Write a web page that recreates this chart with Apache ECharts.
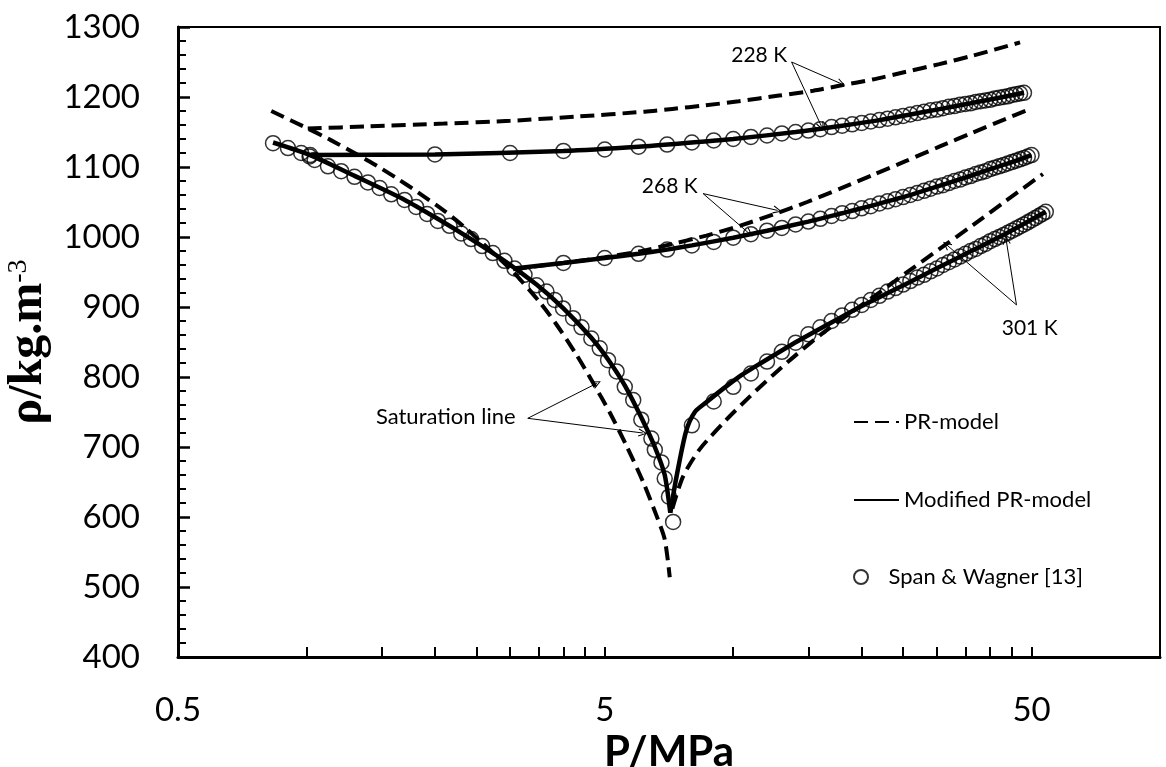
<!DOCTYPE html>
<html><head><meta charset="utf-8">
<script src="https://cdn.jsdelivr.net/npm/echarts@6/dist/echarts.min.js"></script>
<style>html,body{margin:0;padding:0;background:#fff}#c{width:1166px;height:767px}</style>
</head><body><div id="c"></div>
<script>
// ---------- axis tick / label values ----------
const xLabelValues = [0.5, 5, 50];
const xTickValues = [1, 1.5, 2, 2.5, 3, 3.5, 4, 4.5, 5, 10, 15, 20, 25, 30, 35, 40, 45, 50];

// ---------- Saturation line ----------
const satSWP   = [0.835,0.905,0.972,1.017,1.045,1.123,1.206,1.296,1.393,1.484,1.58,1.698,1.807,1.917,2.032,2.164,2.304,2.432,2.58,2.733,2.91,3.073,3.243,3.46,3.65,3.818,3.992,4.214,4.41,4.65,4.866,5.09,5.33,5.57,5.83,6.09,6.43,6.55,6.79,6.91,7.07,7.23];
const satSWRho = [1134,1127,1120,1115,1110,1101,1094,1086,1078,1070,1061,1053,1043,1033,1023,1016,1005,997,987,977,966,955,946,931,922,910,898,884,871,855,841,824,808,786,767,739,712,696,678,655,629,593];
const satModP   = [0.835,1.02,1.3,1.7,2.03,2.43,2.91,3.46,4.0,4.65,5.09,5.57,6.09,6.55,6.91,7.12];
const satModRho = [1135,1117,1087,1053,1026,997,966,932,898,856,825,788,742,700,660,606];
const satPRP   = [0.827,1.007,1.103,1.185,1.368,1.496,1.637,1.824,2.107,2.346,3.017,3.53,3.853,4.29,4.69,5.14,5.62,6.15,6.61,6.91,7.1];
const satPRRho = [1180,1155,1143,1133,1112,1098,1083,1064,1037,1014,953,906,875,832,792,749,702,650,602,568,514];

// ---------- 228 K ----------
const t228SWP   = [1.02,2,3,4,5,6,7,8,9,10,11,12,13,14,15,16,17,18,19,20,21,22,23,24,25,26,27,28,29,30,31,32,33,34,35,36,37,38,39,40,41,42,43,44,45,46,47,48];
const t228SWRho = [1117,1118,1120,1123,1125,1129,1132,1135,1138,1140,1143,1145,1148,1150,1152,1154,1157,1159,1161,1163,1165,1167,1169,1171,1173,1175,1177,1179,1181,1182,1184,1186,1187,1189,1190,1191,1193,1194,1195,1196,1198,1199,1200,1201,1203,1204,1205,1206];
const t228ModP   = [1.02,2,4,6,8,10,14,18,22,26,30,36,42,48];
const t228ModRho = [1117,1118,1123,1129,1135,1140,1150,1159,1167,1175,1182,1191,1199,1206];
const t228PRP   = [1.007,1.4,2.1,3.0,4.3,6.2,7.2,8.6,10.3,12.8,15.4,17.7,21.2,25.4,30.4,36.4,47];
const t228PRRho = [1155,1158,1162,1166,1172,1179,1183,1188,1194,1202,1209,1216,1225,1236,1247,1259,1278];

// ---------- 268 K ----------
const t268SWP   = [4,5,6,7,8,9,10,11,12,13,14,15,16,17,18,19,20,21,22,23,24,25,26,27,28,29,30,31,32,33,34,35,36,37,38,39,40,41,42,43,44,45,46,47,48,49,50];
const t268SWRho = [963,970,976,982,988,993,999,1004,1009,1013,1018,1022,1026,1030,1034,1037,1041,1044,1048,1051,1054,1057,1060,1063,1066,1069,1072,1074,1077,1080,1082,1085,1087,1090,1092,1094,1097,1099,1101,1103,1105,1107,1109,1111,1113,1115,1117];
const t268ModP   = [3.07,4,5,6,7,8,10,12,15,18,20,25,30,35,40,45,50];
const t268ModRho = [955,963,970,976,982,988,999,1009,1022,1034,1041,1057,1072,1085,1097,1107,1117];
const t268PRP   = [3.05,4,5,6.1,7.2,8.65,10.35,12.4,14.9,17.8,21.3,25.5,30.4,36.4,43.6,48.7];
const t268PRRho = [954,963,971,980,990,1002,1016,1032,1050,1069,1089,1109,1129,1149,1169,1181];

// ---------- 301 K ----------
const t301SWP   = [8,9,10,11,12,13,14,15,16,17,18,19,20,21,22,23,24,25,26,27,28,29,30,31,32,33,34,35,36,37,38,39,40,41,42,43,44,45,46,47,48,49,50,51,52,53,54];
const t301SWRho = [731,765,786,805,822,836,849,861,871,880,888,896,903,910,916,922,927,932,937,942,946,951,955,960,964,968,972,976,980,983,987,990,994,997,1000,1003,1006,1009,1012,1015,1018,1021,1024,1027,1030,1033,1036];
const t301ModP   = [7.12,7.35,7.75,8.13,8.65,9.46,10.35,11.2,13.6,16.2,19.4,21.2,25.4,30.4,36.4,43.6,54];
const t301ModRho = [606,655,722,750,764,783,801,814,845,871,897,909,933,957,981,1005,1036];
const t301PRP   = [7.2,7.63,8.35,9.64,10.93,12.4,14.06,16.23,19.08,22.03,25.45,30.44,36.44,43.62,53.16];
const t301PRRho = [612,658,697,739,772,803,832,863,894,921,949,983,1017,1052,1090];

// ---------- annotations (data coordinates) ----------
const annoTexts = ['228 K', '268 K', '301 K', 'Saturation line'];
const annoTextPos = [[11.5, 1259], [7.1, 1073], [49.5, 870], [2.12, 743]];
const arrowFrom = [[13.7,1250],[13.7,1250],[8.5,1062],[8.5,1062],[46.1,903],[46.1,903],[3.3,741],[3.3,741]];
const arrowTo   = [[17.9,1219],[16.1,1158],[12.7,1038],[10.9,1005],[31.6,989],[43.6,996],[4.79,791],[6.14,720]];

function pairs(xs, ys) { return xs.map((x, i) => [x, ys[i]]); }

const SANS = 'Lato';
const prStyle = {color: '#000', width: 4, type: [14, 7]};
const modStyle = {color: '#000', width: 4.5, type: 'solid'};

function lineSeries(name, xs, ys, style) {
  return {type: 'line', name: name, data: pairs(xs, ys), symbol: 'none', showSymbol: false,
    smooth: 0.25, lineStyle: style, itemStyle: {color: '#000'},
    animation: false, silent: true, z: 3};
}
function swSeries(xs, ys) {
  return {type: 'scatter', name: 'Span & Wagner [13]', data: pairs(xs, ys), symbol: 'circle', symbolSize: 15,
    itemStyle: {color: 'rgba(0,0,0,0)', borderColor: '#000', borderWidth: 1.5}, animation: false, silent: true, z: 4};
}

const arrowPath = 'path://M5,0 L10,12 L8.8,12.6 L5,3 L1.2,12.6 L0,12 Z';

const series = [
  lineSeries('PR-model', satPRP, satPRRho, prStyle),
  lineSeries('PR-model', t228PRP, t228PRRho, prStyle),
  lineSeries('PR-model', t268PRP, t268PRRho, prStyle),
  lineSeries('PR-model', t301PRP, t301PRRho, prStyle),
  lineSeries('Modified PR-model', satModP, satModRho, modStyle),
  lineSeries('Modified PR-model', t228ModP, t228ModRho, modStyle),
  lineSeries('Modified PR-model', t268ModP, t268ModRho, modStyle),
  lineSeries('Modified PR-model', t301ModP, t301ModRho, modStyle),
  swSeries(satSWP, satSWRho),
  swSeries(t228SWP, t228SWRho),
  swSeries(t268SWP, t268SWRho),
  swSeries(t301SWP, t301SWRho),
  {
    type: 'line', name: 'annotations', data: [], silent: true, animation: false, z: 5,
    markLine: {
      silent: true, animation: false, symbol: ['none', arrowPath], symbolSize: [8, 9],
      lineStyle: {color: '#000', width: 1, type: 'solid'}, label: {show: false},
      emphasis: {disabled: true},
      data: arrowFrom.map((a, i) => [{coord: a}, {coord: arrowTo[i]}])
    },
    markPoint: {
      silent: true, animation: false, symbol: 'circle', symbolSize: 1,
      itemStyle: {color: 'rgba(0,0,0,0)'},
      label: {show: true, position: 'inside', color: '#000', fontSize: 21, fontFamily: SANS},
      data: annoTexts.map((t, i) => ({coord: annoTextPos[i], value: t,
        label: {formatter: t, fontSize: i === 3 ? 22 : 21}}))
    }
  }
];

function legendBox(name, top, hideSymbol) {
  const lg = {data: [name], left: 853, top: top, padding: 0, itemWidth: 45, itemHeight: 14,
    selectedMode: false, textStyle: {fontSize: 22, fontFamily: SANS, color: '#000'}};
  if (hideSymbol) lg.itemStyle = {opacity: 0};
  return lg;
}

const chart = echarts.init(document.getElementById('c'), null, {renderer: 'canvas'});
chart.setOption({
  animation: false,
  backgroundColor: '#fff',
  grid: {left: 178, right: 6, top: 27, bottom: 110, show: true, borderColor: '#000', borderWidth: 2,
    containLabel: false, outerBoundsMode: 'none'},
  legend: [legendBox('PR-model', 411, true), legendBox('Modified PR-model', 489, true), legendBox('Span & Wagner [13]', 566, false)],
  xAxis: {
    type: 'log', logBase: 10, min: 0.5, max: 100,
    axisLine: {onZero: false, lineStyle: {color: '#000', width: 3}},
    axisTick: {inside: true, length: 10, lineStyle: {color: '#000', width: 2}, customValues: xTickValues},
    axisLabel: {customValues: xLabelValues, fontSize: 33, fontFamily: SANS, color: '#000', margin: 37,
      formatter: v => String(v)},
    splitLine: {show: false},
    name: 'P/MPa', nameLocation: 'middle', nameGap: 73,
    nameTextStyle: {fontSize: 42, fontWeight: 'bold', fontFamily: SANS, color: '#000'}
  },
  yAxis: {
    type: 'value', min: 400, max: 1300, interval: 100,
    axisLine: {show: true, lineStyle: {color: '#000', width: 3}},
    axisTick: {inside: true, length: 12, lineStyle: {color: '#000', width: 2.5}},
    minorTick: {show: true, splitNumber: 5, length: 8, lineStyle: {color: '#000', width: 2}},
    axisLabel: {fontSize: 33, fontFamily: SANS, color: '#000', margin: 38, formatter: v => String(v)},
    splitLine: {show: false},
    name: '{a|ρ/kg.m}{b|-3}', nameLocation: 'middle', nameRotate: 90, nameGap: 118,
    nameTextStyle: {color: '#000', rich: {
      a: {fontFamily: 'Liberation Serif', fontWeight: 'bold', fontSize: 48, color: '#000'},
      b: {fontFamily: 'Liberation Serif', fontSize: 28, color: '#000', verticalAlign: 'top'}
    }}
  },
  series: series
});
</script></body></html>
